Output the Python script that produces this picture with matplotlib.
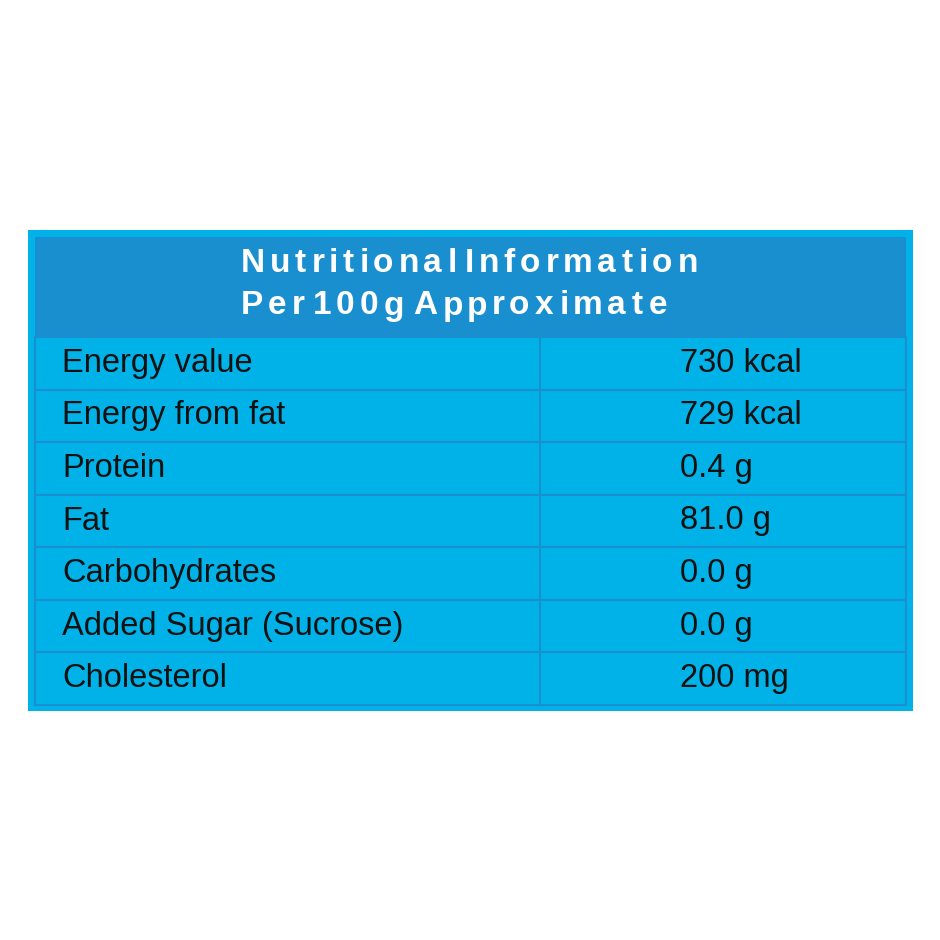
import matplotlib
matplotlib.use("Agg")
import matplotlib.pyplot as plt
from matplotlib.patches import Rectangle
from matplotlib.textpath import TextPath
from matplotlib.font_manager import FontProperties

title_lines = ["Nutritional Information", "Per 100g Approximate"]
nutrients = ["Energy value", "Energy from fat", "Protein", "Fat", "Carbohydrates",
             "Added Sugar (Sucrose)", "Cholesterol"]
amounts = ["730 kcal", "729 kcal", "0.4 g", "81.0 g", "0.0 g", "0.0 g", "200 mg"]

fig = plt.figure(figsize=(9.4, 9.4), dpi=100)
ax = fig.add_axes([0, 0, 1, 1])
ax.set_xlim(0, 940); ax.set_ylim(940, 0); ax.axis("off")

light = "#00b2e8"; dark = "#1a8fd0"
ax.add_patch(Rectangle((28, 230), 885, 481, facecolor=light, edgecolor="none"))
ax.add_patch(Rectangle((35, 237), 871, 100, facecolor=dark, edgecolor="none"))

fp = FontProperties(family="Liberation Sans", weight="bold", size=24)
def spaced(x, y, s, gap):
    for ch in s:
        ax.text(x, y, ch, color="white", fontproperties=fp, va="center", ha="left")
        w = TextPath((0, 0), ch, prop=fp).get_extents().width if ch != " " else 0
        adv = TextPath((0, 0), ch + "|", prop=fp).get_extents().width - TextPath((0, 0), "|", prop=fp).get_extents().width
        x += adv * 100 / 72 + gap
spaced(241, 263, title_lines[0], 4.0)
spaced(241, 306, title_lines[1], 4.0)

top = 337; h = (705 - 337) / len(nutrients)
for i, (n, a) in enumerate(zip(nutrients, amounts)):
    y = top + i * h
    ax.add_patch(Rectangle((35, y), 871, h, facecolor=light, edgecolor=dark, lw=1.5))
    ax.text(62, y + h / 2, n, fontsize=23.5, va="center", ha="left", color="#111111",
            family="Liberation Sans")
    ax.text(680, y + h / 2, a, fontsize=23.5, va="center", ha="left", color="#111111",
            family="Liberation Sans")
ax.plot([540, 540], [337, 705], color=dark, lw=1.5)
fig.savefig("out.png", dpi=100, facecolor="white")
